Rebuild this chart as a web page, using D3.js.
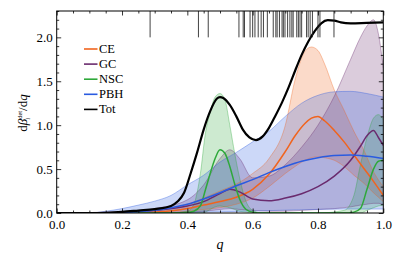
<!DOCTYPE html>
<html>
<head>
<meta charset="utf-8">
<script src="https://cdn.jsdelivr.net/npm/d3@7"></script>
<style>
  body { margin: 0; background: #fff; }
</style>
</head>
<body>
<svg id="chart" width="395" height="270"></svg>
<script>
// data
var totQ = [0, 0.1, 0.15, 0.2, 0.25, 0.3, 0.35, 0.37, 0.39, 0.41, 0.43, 0.45, 0.47, 0.49, 0.5, 0.51, 0.53, 0.55, 0.57, 0.59, 0.61, 0.63, 0.65, 0.67, 0.69, 0.71, 0.73, 0.75, 0.77, 0.79, 0.81, 0.83, 0.85, 0.87, 0.9, 0.95, 1.0];
var totVal = [0, 0, 0.003, 0.012, 0.028, 0.045, 0.08, 0.13, 0.23, 0.45, 0.69, 0.95, 1.16, 1.3, 1.32, 1.31, 1.23, 1.1, 0.95, 0.86, 0.83, 0.87, 0.97, 1.11, 1.26, 1.43, 1.62, 1.8, 1.95, 2.07, 2.16, 2.195, 2.19, 2.17, 2.16, 2.165, 2.17];

var ceQ = [0, 0.2, 0.3, 0.4, 0.45, 0.5, 0.55, 0.6, 0.65, 0.7, 0.73, 0.76, 0.78, 0.8, 0.82, 0.85, 0.88, 0.91, 0.94, 0.97, 1.0];
var ceMed = [0, 0, 0.01, 0.05, 0.09, 0.13, 0.18, 0.27, 0.44, 0.7, 0.88, 1.02, 1.08, 1.1, 1.05, 0.94, 0.81, 0.66, 0.51, 0.36, 0.2];
var ceHi = [0, 0.005, 0.03, 0.1, 0.17, 0.25, 0.33, 0.45, 0.62, 1.0, 1.52, 1.84, 1.89, 1.85, 1.7, 1.4, 1.17, 0.93, 0.72, 0.47, 0.3];
var ceLo = [0, 0, 0, 0.02, 0.04, 0.06, 0.1, 0.17, 0.3, 0.45, 0.53, 0.6, 0.63, 0.64, 0.63, 0.6, 0.53, 0.43, 0.34, 0.23, 0.13];

var gcQ = [0, 0.2, 0.3, 0.4, 0.45, 0.5, 0.53, 0.56, 0.6, 0.65, 0.7, 0.75, 0.8, 0.85, 0.9, 0.93, 0.95, 0.97, 0.985, 1.0];
var gcMed = [0, 0.005, 0.03, 0.08, 0.13, 0.22, 0.27, 0.24, 0.16, 0.14, 0.17, 0.22, 0.3, 0.42, 0.6, 0.76, 0.88, 0.94, 0.86, 0.77];
var gcHi = [0, 0.01, 0.05, 0.15, 0.32, 0.62, 0.72, 0.62, 0.4, 0.42, 0.55, 0.75, 1.0, 1.33, 1.75, 2.0, 2.13, 2.2, 2.04, 1.65];
var gcLo = [0, 0, 0, 0.01, 0.02, 0.04, 0.05, 0.04, 0.03, 0.02, 0.02, 0.03, 0.04, 0.05, 0.07, 0.09, 0.1, 0.11, 0.11, 0.1];

var nscQ = [0, 0.35, 0.4, 0.42, 0.44, 0.455, 0.47, 0.485, 0.5, 0.515, 0.53, 0.545, 0.56, 0.58, 0.6, 0.63, 0.7, 0.8, 0.88, 0.91, 0.93, 0.95, 0.97, 0.985, 1.0];
var nscMed = [0, 0, 0.005, 0.02, 0.08, 0.26, 0.45, 0.62, 0.72, 0.68, 0.53, 0.33, 0.16, 0.04, 0.01, 0, 0, 0, 0, 0.01, 0.05, 0.27, 0.5, 0.59, 0.6];
var nscHi = [0, 0, 0.02, 0.1, 0.45, 0.9, 1.15, 1.32, 1.36, 1.29, 1.0, 0.68, 0.4, 0.13, 0.03, 0, 0, 0, 0.03, 0.2, 0.55, 0.86, 1.08, 1.12, 1.06];
var nscLo = [0, 0, 0, 0, 0, 0.01, 0.04, 0.07, 0.08, 0.07, 0.06, 0.04, 0.02, 0.01, 0, 0, 0, 0, 0, 0, 0, 0.03, 0.06, 0.08, 0.09];

var pbhQ = [0, 0.1, 0.15, 0.2, 0.25, 0.3, 0.35, 0.4, 0.45, 0.5, 0.55, 0.6, 0.65, 0.7, 0.75, 0.8, 0.85, 0.9, 0.95, 1.0];
var pbhMed = [0, 0, 0.002, 0.006, 0.014, 0.03, 0.06, 0.1, 0.16, 0.23, 0.31, 0.38, 0.46, 0.53, 0.59, 0.63, 0.655, 0.66, 0.645, 0.62];
var pbhHi = [0, 0, 0.02, 0.05, 0.09, 0.135, 0.2, 0.32, 0.43, 0.58, 0.69, 0.81, 0.93, 1.1, 1.25, 1.34, 1.38, 1.385, 1.36, 1.32];
var pbhLo = [0, 0, 0, 0, 0, 0.002, 0.004, 0.007, 0.01, 0.014, 0.018, 0.022, 0.027, 0.032, 0.037, 0.041, 0.044, 0.045, 0.045, 0.045];

// detected events (rug at the top)
var rugQ = [0.286, 0.434, 0.464, 0.558, 0.571, 0.575, 0.592, 0.6, 0.607, 0.617, 0.626, 0.633, 0.645, 0.663, 0.671, 0.675, 0.682, 0.69, 0.694, 0.699, 0.707, 0.714, 0.72, 0.724, 0.735, 0.74, 0.745, 0.75, 0.765, 0.77, 0.776, 0.783, 0.8, 0.806, 0.849];

var legendNames = ["CE", "GC", "NSC", "PBH", "Tot"];
var xTicks = [0, 0.2, 0.4, 0.6, 0.8, 1.0];
var yTicks = [0, 0.5, 1.0, 1.5, 2.0];

var colours = { CE: "#f0641e", GC: "#6a2b6e", NSC: "#2ea83a", PBH: "#2a5be0", Tot: "#000000" };
var serif = "'Liberation Serif', 'Times New Roman', 'DejaVu Serif', serif";

var svg = d3.select("#chart");

var x = d3.scaleLinear().domain([0, 1]).range([56.7, 383.3]),
  y = d3.scaleLinear().domain([0, 2.3]).range([213, 11]);

var series = [
  { name: "CE", q: ceQ, med: ceMed, hi: ceHi, lo: ceLo },
  { name: "GC", q: gcQ, med: gcMed, hi: gcHi, lo: gcLo },
  { name: "NSC", q: nscQ, med: nscMed, hi: nscHi, lo: nscLo },
  { name: "PBH", q: pbhQ, med: pbhMed, hi: pbhHi, lo: pbhLo }
];

svg.append("clipPath").attr("id", "plotClip")
  .append("rect").attr("x", 56.7).attr("y", 11).attr("width", 326.6).attr("height", 202);

var plot = svg.append("g").attr("clip-path", "url(#plotClip)");

var band = d3.area()
  .x((d) => x(d.q))
  .y0((d) => y(d.lo))
  .y1((d) => y(d.hi))
  .curve(d3.curveMonotoneX);
var line = d3.line()
  .x((d) => x(d.q))
  .y((d) => y(d.v))
  .curve(d3.curveMonotoneX);

function rows(s, key) {
  return s.q.map((q, i) => ({ q: q, v: s[key][i], hi: s.hi[i], lo: s.lo[i] }));
}

// shaded bands
series.forEach((s) => {
  plot.append("path")
    .attr("d", band(rows(s, "med")))
    .attr("fill", colours[s.name])
    .attr("fill-opacity", 0.24)
    .attr("stroke", "none");
});
// band edges
series.forEach((s) => {
  ["hi", "lo"].forEach((k) => {
    plot.append("path")
      .attr("d", line(rows(s, k)))
      .attr("fill", "none")
      .attr("stroke", colours[s.name])
      .attr("stroke-opacity", 0.45)
      .attr("stroke-width", 0.8);
  });
});
// medians
series.forEach((s) => {
  plot.append("path")
    .attr("d", line(rows(s, "med")))
    .attr("fill", "none")
    .attr("stroke", colours[s.name])
    .attr("stroke-width", 1.5);
});

// total
plot.append("path")
  .attr("d", line(totQ.map((q, i) => ({ q: q, v: totVal[i] }))))
  .attr("fill", "none")
  .attr("stroke", colours.Tot)
  .attr("stroke-width", 2.2);

// rug
plot.selectAll(".rug")
  .data(rugQ)
  .enter()
  .append("line")
  .attr("x1", (d) => x(d))
  .attr("x2", (d) => x(d))
  .attr("y1", y(2.0))
  .attr("y2", y(2.3))
  .attr("stroke", "#222")
  .attr("stroke-opacity", 0.85)
  .attr("stroke-width", 1);

// frame ticks, pointing inwards
var xMinor = d3.range(0, 1.0001, 0.05).filter((v) => Math.abs(v * 5 - Math.round(v * 5)) > 1e-6);
var yMinor = d3.range(0, 2.3001, 0.1).filter((v) => Math.abs(v * 2 - Math.round(v * 2)) > 1e-6);
var fmt = d3.format(".1f");

function ticks(axis, tr, vals, size, labels, pad) {
  var g = svg.append("g")
    .attr("transform", tr)
    .call(axis.tickValues(vals).tickSizeInner(-size).tickSizeOuter(0)
      .tickPadding(pad).tickFormat(labels ? fmt : ""));
  g.attr("font-family", serif).attr("font-size", 13);
  g.select(".domain").remove();
  g.selectAll("line").attr("stroke", "#000").attr("stroke-width", 0.8);
  g.selectAll("text").attr("fill", "#000").attr("font-family", serif).attr("font-size", 13);
  return g;
}

ticks(d3.axisBottom(x), "translate(0,213)", xTicks, 4.5, true, 7);
ticks(d3.axisBottom(x), "translate(0,213)", xMinor, 2.5, false, 0);
ticks(d3.axisTop(x), "translate(0,11)", xTicks, 4.5, false, 0);
ticks(d3.axisTop(x), "translate(0,11)", xMinor, 2.5, false, 0);
ticks(d3.axisLeft(y), "translate(56.7,0)", yTicks, 4.5, true, 4);
ticks(d3.axisLeft(y), "translate(56.7,0)", yMinor, 2.5, false, 0);
ticks(d3.axisRight(y), "translate(383.3,0)", yTicks, 4.5, false, 0);
ticks(d3.axisRight(y), "translate(383.3,0)", yMinor, 2.5, false, 0);

svg.append("rect")
  .attr("x", 56.7).attr("y", 11).attr("width", 326.6).attr("height", 202)
  .attr("fill", "none").attr("stroke", "#000").attr("stroke-width", 1);

// axis titles
svg.append("text")
  .attr("x", 220).attr("y", 249)
  .attr("text-anchor", "middle")
  .attr("font-family", serif)
  .attr("font-size", 14)
  .attr("font-style", "italic")
  .text("q");

var yl = svg.append("text")
  .attr("transform", "translate(27,113) rotate(-90)")
  .attr("text-anchor", "middle")
  .attr("font-family", serif)
  .attr("font-size", 13);
yl.append("tspan").text("d");
yl.append("tspan").attr("font-style", "italic").text("β");
yl.append("tspan").attr("font-size", 6.5).attr("dy", -5).text("det");
yl.append("tspan").attr("font-size", 7).attr("font-style", "italic").attr("dx", -9).attr("dy", 8).text("i");
yl.append("tspan").attr("dx", 7).attr("dy", -3).text("/d");
yl.append("tspan").attr("font-style", "italic").text("q");

// legend
var legend = svg.append("g");
legendNames.forEach((n, i) => {
  var ly = 49 + i * 15.1;
  legend.append("line")
    .attr("x1", 84).attr("x2", 97.5)
    .attr("y1", ly).attr("y2", ly)
    .attr("stroke", colours[n])
    .attr("stroke-width", 1.6);
  legend.append("text")
    .attr("x", 99).attr("y", ly + 4)
    .attr("font-family", serif)
    .attr("font-size", 12.5)
    .text(n);
});
</script>
</body>
</html>
